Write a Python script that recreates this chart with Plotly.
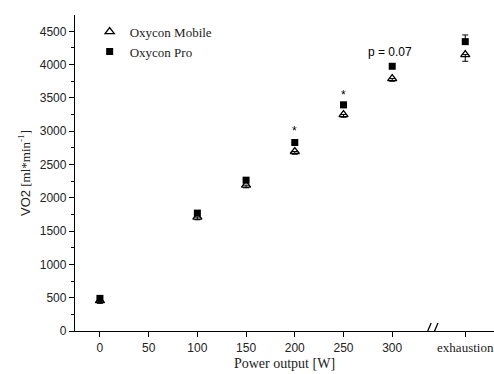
import plotly.graph_objects as go

# Data
x_labels = ["0", "100", "150", "200", "250", "300", "exhaustion"]
x_pos = [0, 100, 150, 200, 250, 300, 375]
vo2_mobile = [455, 1710, 2190, 2695, 3250, 3790, 4150]
vo2_pro = [490, 1770, 2265, 2830, 3395, 3975, 4345]
err_mobile = [40, 40, 40, 40, 40, 40, 100]
err_pro = [40, 40, 40, 40, 40, 40, 100]
tick_vals = [0, 50, 100, 150, 200, 250, 300, 375]
tick_text = ["0", "50", "100", "150", "200", "250", "300",
             '<span style="font-family:Liberation Serif;font-size:13px">exhaustion</span>']
y_ticks = [0, 500, 1000, 1500, 2000, 2500, 3000, 3500, 4000, 4500]

serif = "Liberation Serif, Times New Roman, serif"
sans = "Liberation Sans, Arial, sans-serif"

fig = go.Figure()
fig.add_trace(go.Scatter(
    x=x_pos, y=vo2_mobile, mode="markers", name="Oxycon Mobile",
    marker=dict(symbol="triangle-up-open", size=8, color="black", line=dict(width=1.3, color="black")),
    error_y=dict(type="data", symmetric=False, array=[0]*len(err_mobile), arrayminus=err_mobile,
                 color="black", thickness=1, width=3),
))
fig.add_trace(go.Scatter(
    x=x_pos, y=vo2_pro, mode="markers", name="Oxycon Pro",
    marker=dict(symbol="square", size=7, color="black"),
    error_y=dict(type="data", symmetric=False, array=err_pro, arrayminus=[0]*len(err_pro),
                 color="black", thickness=1, width=3),
))

# significance annotations
for xv, yv, txt in [(200, 3000, "*"), (250, 3550, "*"), (298, 4190, "p = 0.07")]:
    fig.add_annotation(x=xv, y=yv, text=txt, showarrow=False,
                       font=dict(family=sans, size=12, color="black"))

# axis break marks
brk = 340
fig.add_shape(type="line", x0=brk - 3, x1=brk + 3, y0=0, y1=0, xref="x", yref="y",
              line=dict(color="white", width=4), layer="above")
for dx in (-3.5, 3.5):
    fig.add_shape(type="line", x0=brk + dx - 3.5, x1=brk + dx + 3.5, y0=-120, y1=120,
                  xref="x", yref="y", line=dict(color="black", width=1.3), layer="above")

fig.update_layout(
    width=494, height=374,
    margin=dict(l=75, r=0, t=15, b=43),
    plot_bgcolor="white", paper_bgcolor="white",
    showlegend=True,
    legend=dict(x=0.035, y=0.995, xanchor="left", yanchor="top",
                font=dict(family=serif, size=13, color="#222"),
                bgcolor="rgba(0,0,0,0)", itemwidth=30, tracegroupgap=0),
    xaxis=dict(range=[-25.6, 404.5], tickvals=tick_vals, ticktext=tick_text,
               showline=True, linecolor="black", linewidth=1.3,
               ticks="outside", ticklen=5, tickcolor="black",
               showgrid=False, zeroline=False, automargin=False,
               tickfont=dict(family=sans, size=12, color="#222"),
               title=dict(text="Power output [W]", font=dict(family=serif, size=14, color="#222"), standoff=4)),
    yaxis=dict(range=[0, 4745], tickvals=y_ticks,
               showline=True, linecolor="black", linewidth=1.3,
               ticks="outside", ticklen=5, tickcolor="black",
               minor=dict(dtick=250, ticks="outside", ticklen=3, tickcolor="black"),
               showgrid=False, zeroline=False, automargin=False,
               tickfont=dict(family=sans, size=12, color="#222"),
               title=dict(text='<span style="font-family:Liberation Sans">VO2</span> [ml*min<sup>-1</sup>]',
                          font=dict(family=serif, size=13, color="#222"), standoff=6)),
)

fig.write_html("out.html", config={"displayModeBar": False},
               post_script="document.body.style.margin='0';document.body.style.overflow='hidden';")
